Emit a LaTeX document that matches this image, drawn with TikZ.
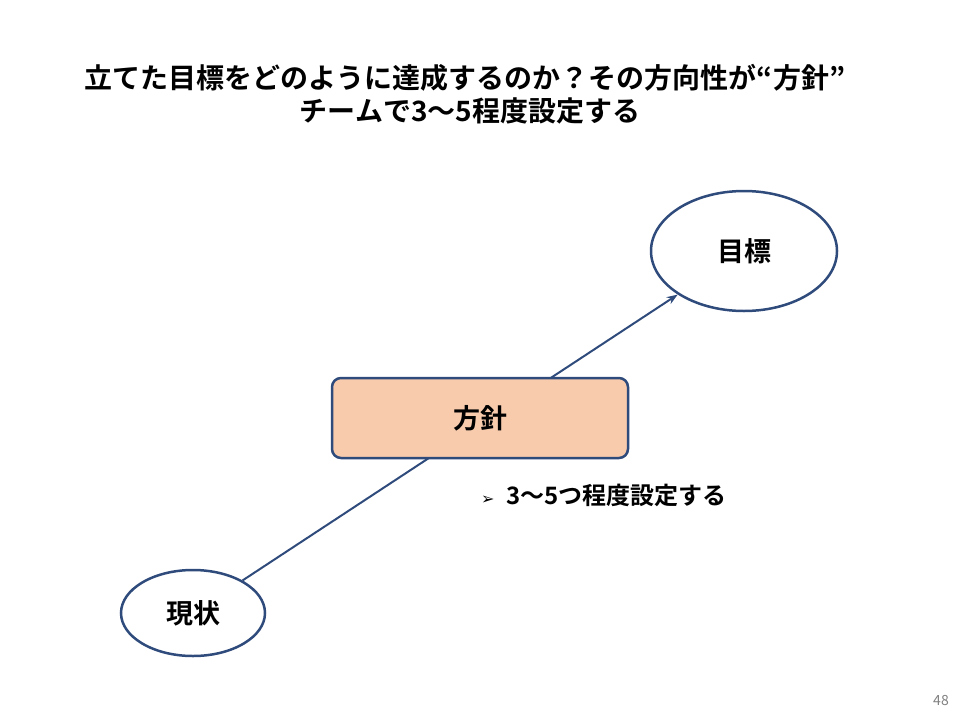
\documentclass[tikz,border=0pt]{standalone}
\usepackage{fontspec}
\setmainfont{Noto Sans CJK JP}[BoldFont={Noto Sans CJK JP Bold}]
\newfontfamily\dejavu{DejaVu Sans}
\usetikzlibrary{shapes.geometric,arrows.meta}
\definecolor{edge}{HTML}{2F4B7C}
\definecolor{boxfill}{HTML}{F8CBAD}
\begin{document}
\begin{tikzpicture}[x=1pt,y=-1pt,
  ell/.style={ellipse,draw=edge,line width=2.5pt,fill=white,font=\bfseries\fontsize{27}{30}\selectfont},
  txt/.style={font=\bfseries\fontsize{28}{32}\selectfont,inner sep=0}]
\useasboundingbox (0,0) rectangle (960,720);
\node[ell,minimum width=186,minimum height=120] (goal) at (744,251) {目標};
\node[ell,minimum width=144,minimum height=86] (now) at (193,613) {現状};
\draw[edge,line width=2pt,-{Stealth[length=11pt,width=8pt]}] (now) -- (goal);
\node[draw=edge,line width=2.5pt,fill=boxfill,rounded corners=9pt,minimum width=296,minimum height=80,font=\bfseries\fontsize{27}{30}\selectfont] (pol) at (480,418) {方針};
\node[txt] (t1) at (465,78) {立てた目標をどのように達成するのか？その方向性が“方針”};
\node[txt] (t2) at (470,111) {チームで3〜5程度設定する};
\node[anchor=west,inner sep=0,font=\bfseries\fontsize{24}{28}\selectfont] (b) at (481,495) {{\dejavu\fontsize{16}{18}\selectfont ➢}\hspace{12pt}3〜5つ程度設定する};
\node[font=\fontsize{14}{16}\selectfont,text=gray] (pg) at (941,700) {48};
\end{tikzpicture}
\end{document}
